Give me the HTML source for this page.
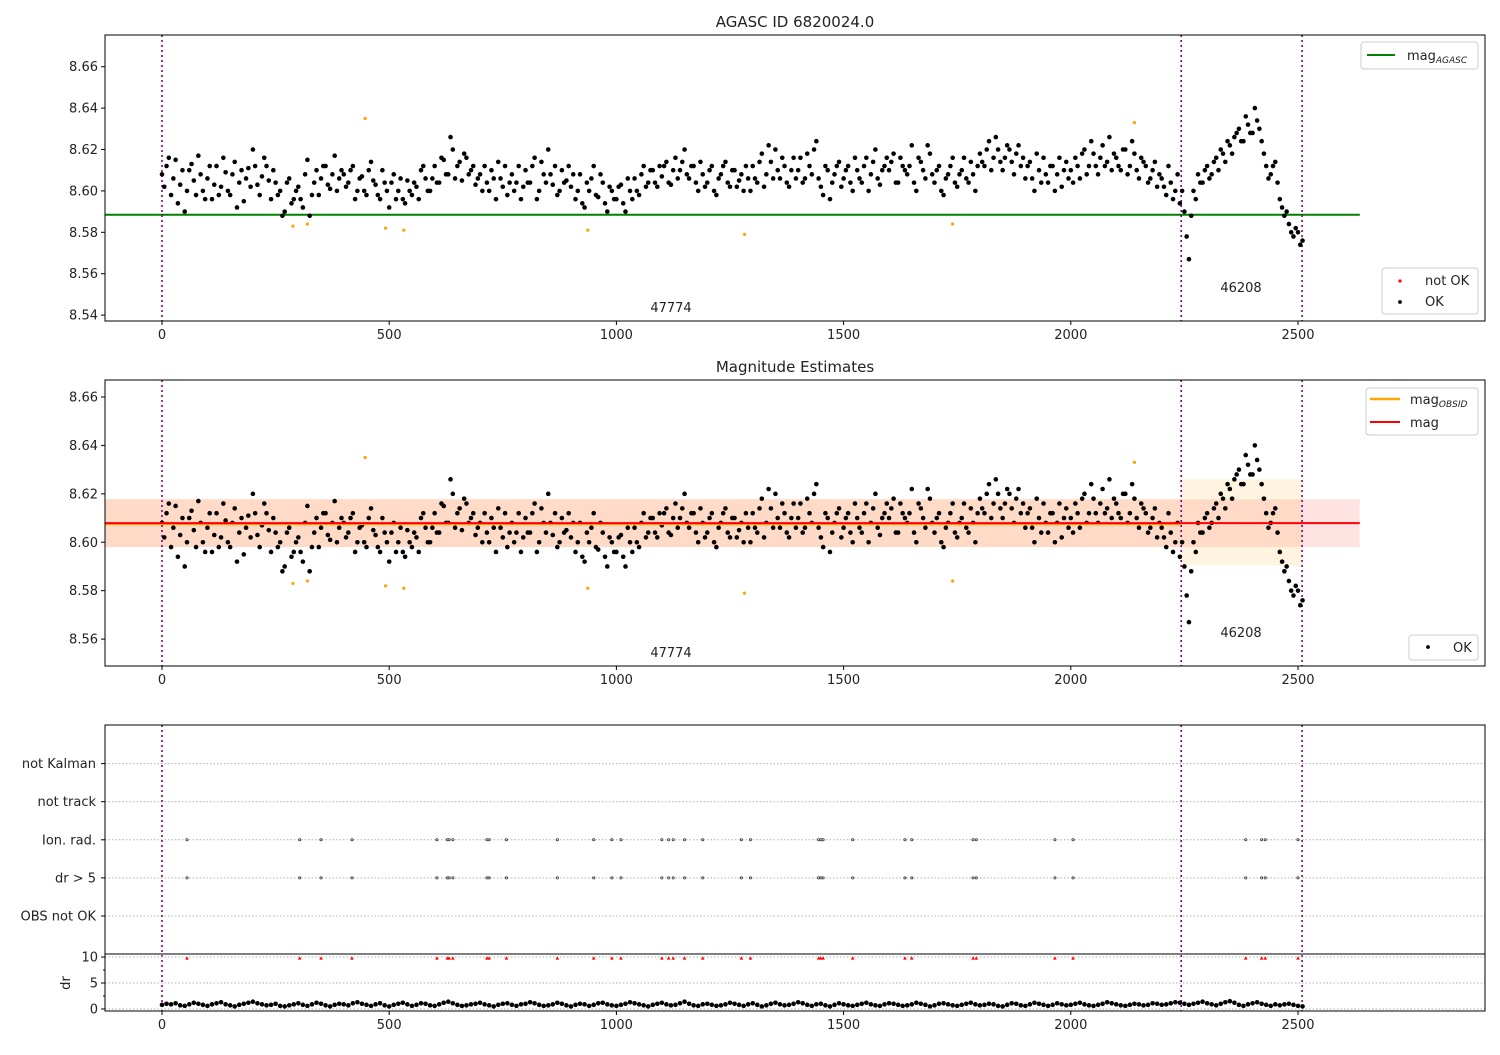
<!DOCTYPE html>
<html><head><meta charset="utf-8"><style>
body{margin:0;background:#fff;font-family:"Liberation Sans","DejaVu Sans",sans-serif;}
svg text{font-family:"DejaVu Sans","Liberation Sans",sans-serif;fill:#222;}
</style></head><body>
<svg id="fig" width="1500" height="1050" viewBox="0 0 1500 1050" xmlns="http://www.w3.org/2000/svg"></svg>
<script>
// ---- data ----
const magA=[
8.608,8.612,8.598,8.615,8.603,8.590,8.610,8.605,8.617,8.600,
8.606,8.596,8.612,8.602,8.609,8.598,8.614,8.604,8.595,8.611,
8.620,8.603,8.607,8.612,8.596,8.604,8.600,8.590,8.606,8.596,
8.602,8.592,8.615,8.598,8.610,8.606,8.612,8.601,8.617,8.606,
8.608,8.604,8.612,8.600,8.607,8.598,8.614,8.603,8.596,8.604,
8.592,8.608,8.600,8.596,8.605,8.598,8.602,8.610,8.606,8.600,
8.612,8.604,8.615,8.608,8.620,8.612,8.605,8.616,8.610,8.603,
8.608,8.612,8.600,8.606,8.614,8.602,8.598,8.608,8.604,8.596,
8.610,8.604,8.616,8.600,8.608,8.620,8.603,8.598,8.610,8.605,
8.602,8.596,8.608,8.592,8.600,8.612,8.597,8.604,8.590,8.600,
8.596,8.603,8.590,8.600,8.606,8.598,8.612,8.604,8.610,8.602,
8.607,8.614,8.603,8.616,8.610,8.620,8.606,8.612,8.600,8.608,
8.604,8.612,8.598,8.608,8.614,8.602,8.610,8.605,8.600,8.606,
8.612,8.604,8.618,8.608,8.614,8.620,8.606,8.612,8.602,8.616,
8.610,8.604,8.618,8.608,8.624,8.602,8.612,8.596,8.608,8.614,
8.606,8.612,8.600,8.610,8.604,8.616,8.608,8.620,8.603,8.612,
8.610,8.618,8.604,8.612,8.608,8.622,8.600,8.614,8.606,8.618,
8.604,8.612,8.598,8.608,8.616,8.602,8.610,8.606,8.614,8.600,
8.618,8.612,8.624,8.616,8.620,8.610,8.622,8.614,8.618,8.612,
8.606,8.614,8.600,8.610,8.616,8.604,8.612,8.608,8.602,8.614,
8.610,8.616,8.606,8.620,8.612,8.618,8.608,8.622,8.614,8.610,
8.616,8.610,8.620,8.612,8.618,8.606,8.614,8.604,8.610,8.602,
8.606,8.598,8.604,8.600,8.594,8.590,8.567,8.600,8.608,8.604,
8.612,8.608,8.616,8.620,8.614,8.622,8.626,8.630,8.624,8.632,
8.628,8.634,8.624,8.612,8.608,8.614,8.596,8.588,8.584,8.578,
8.580,8.576];
const magB=[
8.602,8.616,8.606,8.594,8.610,8.600,8.613,8.598,8.608,8.596,
8.612,8.603,8.598,8.616,8.600,8.608,8.592,8.610,8.606,8.602,
8.612,8.598,8.616,8.605,8.610,8.598,8.588,8.604,8.594,8.600,
8.596,8.608,8.588,8.604,8.598,8.612,8.603,8.608,8.600,8.610,
8.602,8.610,8.596,8.606,8.600,8.610,8.605,8.598,8.610,8.600,
8.604,8.596,8.606,8.594,8.600,8.604,8.596,8.612,8.600,8.606,
8.604,8.616,8.608,8.626,8.606,8.614,8.618,8.608,8.612,8.606,
8.600,8.604,8.610,8.596,8.606,8.612,8.604,8.600,8.612,8.602,
8.604,8.612,8.596,8.614,8.604,8.608,8.612,8.600,8.604,8.612,
8.608,8.600,8.594,8.604,8.606,8.598,8.608,8.594,8.602,8.596,
8.602,8.594,8.606,8.596,8.600,8.608,8.602,8.610,8.604,8.612,
8.612,8.604,8.610,8.606,8.614,8.608,8.612,8.604,8.614,8.602,
8.610,8.600,8.606,8.612,8.604,8.610,8.602,8.608,8.612,8.600,
8.606,8.614,8.602,8.622,8.606,8.610,8.616,8.604,8.610,8.606,
8.616,8.606,8.612,8.620,8.606,8.598,8.610,8.604,8.612,8.602,
8.610,8.604,8.616,8.606,8.612,8.600,8.614,8.606,8.610,8.616,
8.614,8.604,8.616,8.610,8.612,8.604,8.616,8.610,8.622,8.608,
8.610,8.600,8.606,8.612,8.604,8.608,8.616,8.604,8.608,8.612,
8.614,8.620,8.610,8.626,8.614,8.616,8.620,8.608,8.622,8.616,
8.612,8.606,8.618,8.604,8.608,8.612,8.600,8.616,8.610,8.606,
8.604,8.612,8.618,8.608,8.624,8.612,8.616,8.612,8.626,8.618,
8.612,8.620,8.608,8.624,8.610,8.616,8.612,8.606,8.614,8.608,
8.602,8.612,8.596,8.608,8.600,8.578,8.588,8.596,8.604,8.610,
8.606,8.614,8.610,8.618,8.624,8.618,8.628,8.624,8.636,8.628,
8.640,8.630,8.618,8.606,8.612,8.604,8.592,8.590,8.580,8.582,
8.574];
const badX=[288,320,447,492,532,937,1282,1740,2140];
const badMag=[8.583,8.584,8.635,8.582,8.581,8.581,8.579,8.584,8.633];
const eventX=[55,303,350,418,605,628,632,640,715,720,758,870,950,990,1010,1100,1115,1125,1150,1190,1275,1295,1445,1450,1455,1520,1635,1650,1785,1792,1965,2005,2385,2420,2428,2500];
const drVals=[
0.8,1.0,0.9,1.1,0.7,0.6,0.9,1.2,1.0,0.8,0.6,0.9,1.1,1.3,0.9,0.7,0.5,0.8,1.0,1.2,
1.4,1.1,0.9,0.7,0.8,1.0,0.6,0.5,0.7,0.9,1.1,0.8,0.6,0.9,1.2,1.0,0.7,0.5,0.8,1.0,
0.9,0.7,1.1,1.3,1.0,0.8,0.6,0.9,1.1,0.7,0.5,0.8,1.0,1.2,0.9,0.6,0.8,1.1,1.0,0.7,
0.6,0.9,1.2,1.4,1.1,0.8,0.6,0.7,0.9,1.0,1.2,0.9,0.7,0.5,0.8,1.0,1.1,0.8,0.6,0.9,
1.0,1.3,1.1,0.8,0.6,0.7,0.9,1.2,1.0,0.7,0.5,0.8,1.0,0.9,0.6,0.8,1.1,1.2,0.9,0.7,
0.6,0.8,1.0,1.3,1.1,0.9,0.7,0.5,0.8,1.0,1.2,0.9,0.7,0.8,1.1,1.4,1.0,0.7,0.6,0.9,
1.0,0.8,0.6,0.7,0.9,1.2,1.0,0.8,0.6,0.9,1.1,0.8,0.5,0.7,1.0,1.2,0.9,0.7,0.8,1.0,
1.3,1.1,0.8,0.6,0.9,1.0,0.7,0.5,0.8,1.1,0.9,0.7,0.6,0.8,1.0,1.2,0.9,0.7,0.6,0.9,
1.1,1.0,0.8,0.6,0.7,0.9,1.2,1.0,0.8,0.5,0.7,1.0,1.1,0.9,0.7,0.6,0.8,1.0,1.2,0.9,
0.7,0.8,1.0,0.9,0.6,0.5,0.8,1.1,1.0,0.7,0.6,0.9,1.2,1.0,0.8,0.6,0.8,1.1,0.9,0.7,
0.8,1.0,1.2,0.9,0.7,0.6,0.8,1.0,1.3,1.1,0.9,0.7,0.6,0.8,1.0,0.9,0.7,0.8,1.1,1.0,
0.8,0.9,1.1,1.3,1.2,1.0,0.8,1.0,1.2,1.4,1.1,0.9,0.7,1.0,1.3,1.5,1.2,0.8,0.6,0.9,
1.1,1.3,1.0,0.8,0.6,0.9,0.7,0.9,1.0,0.8,0.6,0.5];
const agascMag=8.5885, obsMag=8.6079, obsLo=8.598, obsHi=8.6178, obs2Lo=8.5905, obs2Hi=8.626;
const obsBoundaries=[0,2243,2509];
const catLabels=["OBS not OK","dr > 5","Ion. rad.","not track","not Kalman"];
const magTicks=[8.54,8.56,8.58,8.60,8.62,8.64,8.66];
const xTicks=[0,500,1000,1500,2000,2500];
const drTicks=[0,5,10];

// ---- helpers ----
const NS="http://www.w3.org/2000/svg";
const svg=document.getElementById('fig');
function el(tag,attrs,parent){const e=document.createElementNS(NS,tag);for(const k in attrs)e.setAttribute(k,attrs[k]);(parent||svg).appendChild(e);return e;}
const L=105,R=1485;
const xs=v=>162+v*(1298-162)/2500;
const y1=v=>66.7+(8.66-v)*2070;
const y2=v=>397+(8.66-v)*2421;
const yc=i=>916-i*38.1;
const yd=v=>1009-v*5.2;

function frame(top,bot,name){
  const r=el('rect',{x:L,y:top,width:R-L,height:bot-top,fill:'none',stroke:'#000','stroke-width':1});
  
  
}
function xAxis(bot,name){
  const g=el('g',{});
  
  
  xTicks.forEach(t=>{el('line',{x1:xs(t),x2:xs(t),y1:bot,y2:bot+4,stroke:'#000'},g);
    const tx=el('text',{x:xs(t),y:bot+18,'text-anchor':'middle','font-size':13},g);tx.textContent=t;});
}
function yAxis(ticks,f,name,fmt){
  const g=el('g',{});
  
  
  ticks.forEach(t=>{const y=f(t);el('line',{x1:L-4,x2:L,y1:y,y2:y,stroke:'#000'},g);
    const tx=el('text',{x:L-7,y:y+4.5,'text-anchor':'end','font-size':13},g);tx.textContent=fmt(t);});
}
function vlines(top,bot){
  obsBoundaries.forEach(b=>{const l=el('line',{x1:xs(b),x2:xs(b),y1:top,y2:bot,stroke:'#800080','stroke-width':1.6,'stroke-dasharray':'2,3'});
    
    });
}
function points(f,r,col,name){
  const g=el('g',{fill:col});
  
  
  magA.forEach((v,i)=>el('circle',{cx:xs(i*10),cy:f(v),r:r},g));
  magB.forEach((v,i)=>el('circle',{cx:xs(i*10+5),cy:f(v),r:r},g));
  return g;
}
function text(x,y,s,size,anchor,name){const t=el('text',{x:x,y:y,'font-size':size,'text-anchor':anchor||'middle'});t.textContent=s;
  
  return t;}
function legendBox(x,y,w,h,name){const r=el('rect',{x:x,y:y,width:w,height:h,rx:3,fill:'#fff',stroke:'#ccc'});
  
  }

// ---- panel 1 ----
text(795,27,'AGASC ID 6820024.0',15,'middle','panel1-title');
const agl=el('line',{x1:L,x2:xs(2636),y1:y1(agascMag),y2:y1(agascMag),stroke:'#008000','stroke-width':2});


vlines(35,321);
points(y1,2.3,'#000','ok-points-1');
const bad1=el('g',{fill:'#ffa500'});


badX.forEach((x,i)=>el('circle',{cx:xs(x),cy:y1(badMag[i]),r:1.6},bad1));
text(671,312,'47774',13,'middle','obsid-label-47774');
text(1241,292,'46208',13,'middle','obsid-label-46208');
frame(35,321,'panel1-axes');
yAxis(magTicks,y1,'panel1-y-axis',t=>t.toFixed(2));
xAxis(321,'panel1-x-axis');
legendBox(1361,42,117,27,'legend-agasc');
el('line',{x1:1367,x2:1395,y1:55,y2:55,stroke:'#008000','stroke-width':2});
const lt=el('text',{x:1407,y:60,'font-size':13});lt.innerHTML='mag<tspan font-size="9" font-style="italic" dy="3">AGASC</tspan>';
legendBox(1382,268,96,46,'legend-ok-notok');
el('circle',{cx:1400,cy:281,r:1.6,fill:'#ff0000'});
text(1425,285,'not OK',13,'start','legend-not-ok');
el('circle',{cx:1400,cy:302,r:1.9,fill:'#000'});
text(1425,306,'OK',13,'start','legend-ok');

// ---- panel 2 ----
text(795,372,'Magnitude Estimates',15,'middle','panel2-title');
const pb=el('rect',{x:L,y:y2(obsHi),width:xs(2636)-L,height:y2(obsLo)-y2(obsHi),fill:'#ff0000','fill-opacity':0.11});


const ob=el('rect',{x:L,y:y2(obsHi),width:xs(obsBoundaries[1])-L,height:y2(obsLo)-y2(obsHi),fill:'#ffa500','fill-opacity':0.12});


const ob2=el('rect',{x:xs(obsBoundaries[1]),y:y2(obs2Hi),width:xs(obsBoundaries[2])-xs(obsBoundaries[1]),height:y2(obs2Lo)-y2(obs2Hi),fill:'#ffa500','fill-opacity':0.12});


vlines(380,666);
points(y2,2.3,'#000','ok-points-2');
const bad2=el('g',{fill:'#ffa500'});


badX.forEach((x,i)=>el('circle',{cx:xs(x),cy:y2(badMag[i]),r:1.6},bad2));
const oml=el('line',{x1:L,x2:xs(obsBoundaries[1]),y1:y2(obsMag)+1,y2:y2(obsMag)+1,stroke:'#ffa500','stroke-width':2});


const ml=el('line',{x1:L,x2:xs(2636),y1:y2(obsMag),y2:y2(obsMag),stroke:'#ff0000','stroke-width':2});


text(671,657,'47774',13,'middle','obsid-label-47774-b');
text(1241,637,'46208',13,'middle','obsid-label-46208-b');
frame(380,666,'panel2-axes');
yAxis(magTicks.slice(1),y2,'panel2-y-axis',t=>t.toFixed(2));
xAxis(666,'panel2-x-axis');
legendBox(1366,388,112,47,'legend-mag');
el('line',{x1:1370,x2:1400,y1:399,y2:399,stroke:'#ffa500','stroke-width':2.5});
const lt2=el('text',{x:1410,y:404,'font-size':13});lt2.innerHTML='mag<tspan font-size="9" font-style="italic" dy="3">OBSID</tspan>';
el('line',{x1:1370,x2:1400,y1:422,y2:422,stroke:'#ff0000','stroke-width':2});
text(1410,427,'mag',13,'start','legend-mag-label');
legendBox(1409,635,69,25,'legend-ok-2');
el('circle',{cx:1428,cy:647,r:1.9,fill:'#000'});
text(1453,652,'OK',13,'start','legend-ok-2-label');

// ---- panel 3: flags ----
const cg=el('g',{});


catLabels.forEach((c,i)=>{el('line',{x1:L,x2:R,y1:yc(i),y2:yc(i),stroke:'#b0b0b0','stroke-dasharray':'1.5,2'},cg);
  el('line',{x1:L-4,x2:L,y1:yc(i),y2:yc(i),stroke:'#000'},cg);
  const t=el('text',{x:L-9,y:yc(i)+4.5,'font-size':13,'text-anchor':'end'},cg);t.textContent=c;});
vlines(725,1011);
const fg=el('g',{fill:'#fff',stroke:'#333','stroke-width':0.8});


eventX.forEach(x=>{el('circle',{cx:xs(x),cy:yc(2),r:1.1},fg);el('circle',{cx:xs(x),cy:yc(1),r:1.1},fg);});
frame(725,954,'panel3-axes');

// ---- panel 4: dr ----
const dg=el('g',{});


drTicks.forEach(t=>{el('line',{x1:L,x2:R,y1:yd(t),y2:yd(t),stroke:'#b0b0b0','stroke-dasharray':'1.5,2'},dg);});
[2.5,7.5].forEach(t=>el('line',{x1:L-2,x2:L,y1:yd(t),y2:yd(t),stroke:'#000'},dg));
const dp=el('g',{fill:'#000'});


drVals.forEach((v,i)=>el('circle',{cx:xs(i*10),cy:yd(v),r:2.3},dp));
const tg=el('g',{fill:'#ff0000'});


eventX.forEach(x=>{const cx=xs(x),cy=yd(10)+1;el('polygon',{points:`${cx-1.8},${cy+1.6} ${cx+1.8},${cy+1.6} ${cx},${cy-1.8}`},tg);});
frame(954,1011,'panel4-axes');
yAxis(drTicks,yd,'dr-y-axis',t=>t);
const dl=el('text',{x:70,y:983,'font-size':13,'text-anchor':'middle',transform:'rotate(-90 70 983)'});dl.textContent='dr';


xAxis(1011,'panel4-x-axis');
</script>
</body></html>
